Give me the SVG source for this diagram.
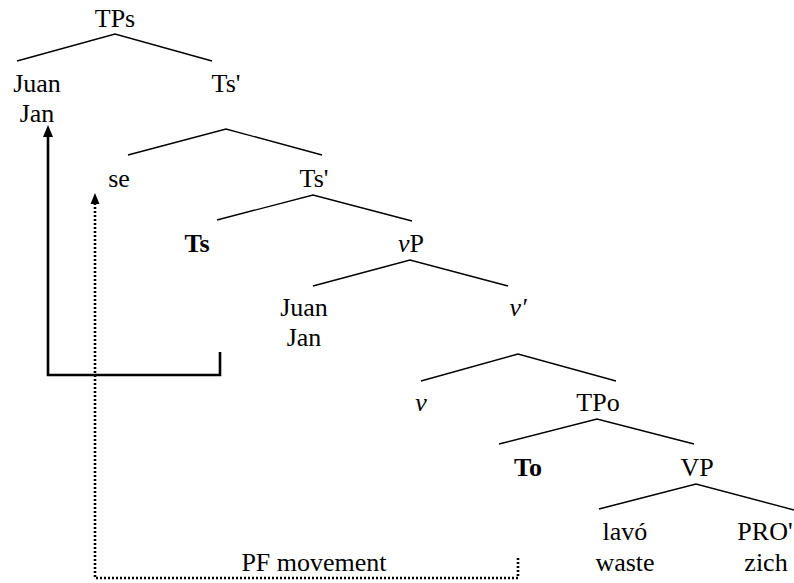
<svg xmlns="http://www.w3.org/2000/svg" width="794" height="583" viewBox="0 0 794 583">
<style>
text{font-family:"Liberation Serif","Times New Roman",serif;font-size:26px;fill:#000;text-anchor:middle}
.b{font-weight:bold}
.i{font-style:italic}
.br{fill:none;stroke:#000;stroke-width:1.4}
.mv{fill:none;stroke:#000;stroke-width:2.6}
.pf{fill:none;stroke:#000;stroke-width:2.6;stroke-dasharray:2 2}
</style>
<g id="connectors">
<path class="br" d="M17,61 L115,34 L212,61"/>
<path class="br" d="M128,155 L226,129 L322,155"/>
<path class="br" d="M217,220 L313,195 L412,221"/>
<path class="br" d="M313,286 L410,260 L508,286"/>
<path class="br" d="M421,381 L518,354 L616,381"/>
<path class="br" d="M499,444 L597,419 L694,444"/>
<path class="br" d="M599,509 L696,484 L794,510"/>
<path class="mv" d="M220,352 L220,375 L48,375 L48,135"/>
<path d="M43,137 L48,125 L53,137 Z" fill="#000"/>
<path class="pf" d="M518,558 L518,578 L95,578 L95,203"/>
<path d="M90.5,204 L95,193 L99.5,204 Z" fill="#000"/>
</g>
<g id="n-TPs"><text x="115" y="27">TPs</text></g>
<g id="n-Juan1"><text x="37" y="92">Juan</text><text x="37" y="122">Jan</text></g>
<g id="n-Ts1"><text x="226" y="92">Ts'</text></g>
<g id="n-se"><text x="119" y="187">se</text></g>
<g id="n-Ts2"><text x="314" y="187">Ts'</text></g>
<g id="n-Ts"><text class="b" x="197" y="252">Ts</text></g>
<g id="n-vP"><text x="411" y="252"><tspan class="i">v</tspan>P</text></g>
<g id="n-Juan2"><text x="304" y="316">Juan</text><text x="304" y="346">Jan</text></g>
<g id="n-vbar"><text class="i" x="518" y="316">v′</text></g>
<g id="n-v"><text class="i" x="421" y="411">v</text></g>
<g id="n-TPo"><text x="598" y="411">TPo</text></g>
<g id="n-To"><text class="b" x="528" y="476">To</text></g>
<g id="n-VP"><text x="697" y="476">VP</text></g>
<g id="n-lavo"><text x="625" y="540">lavó</text><text x="625" y="571">waste</text></g>
<g id="n-PRO"><text x="765" y="540">PRO'</text><text x="766" y="571">zich</text></g>
<g id="label-pf"><text x="314" y="571">PF movement</text></g>
</svg>
